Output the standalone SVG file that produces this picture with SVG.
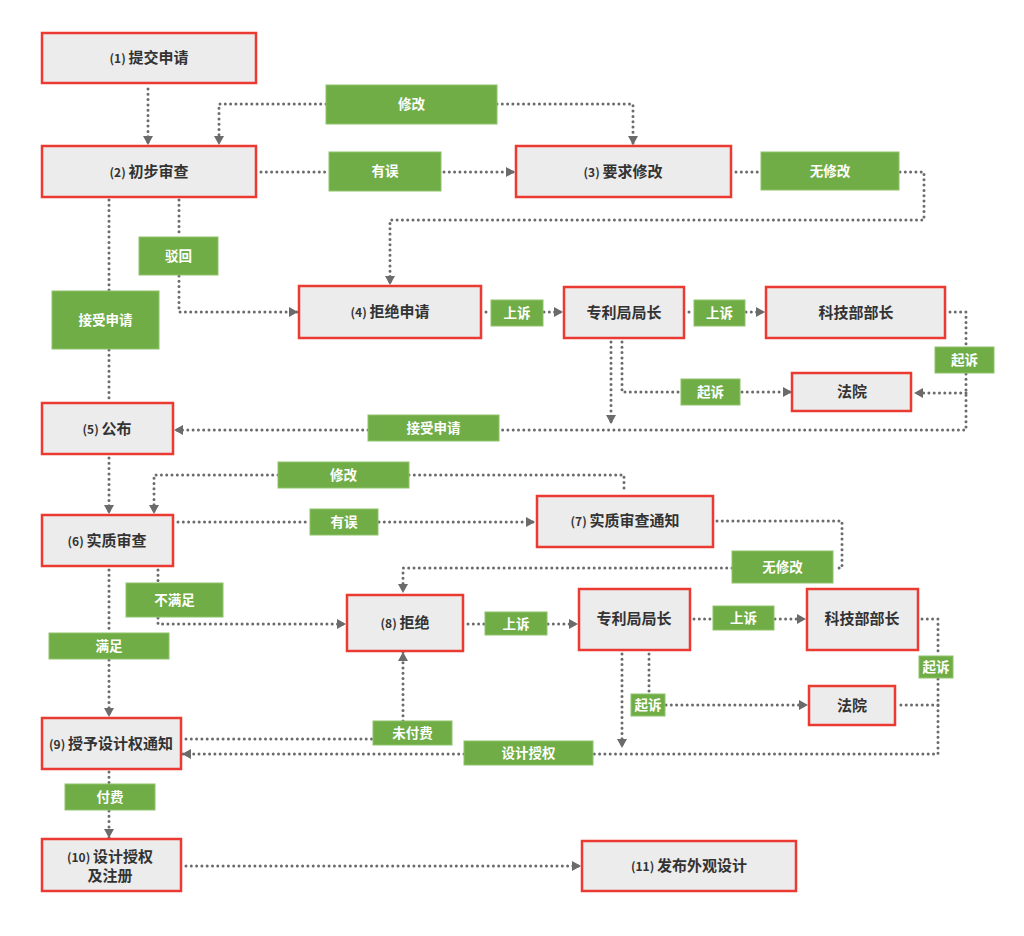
<svg xmlns="http://www.w3.org/2000/svg" width="1024" height="936" viewBox="0 0 1024 936">
<defs>
<style>
.node rect{fill:#ececec;stroke:#ea3a31;stroke-width:2.5}
.nt{font-family:"Noto Sans CJK SC","Noto Sans",sans-serif;font-size:15px;font-weight:bold;fill:#333;text-anchor:middle}
.num{font-size:12px;font-weight:bold}
.lbl rect{fill:#70ad47;stroke:#8fc36a;stroke-width:1}
.lt{font-family:"Noto Sans CJK SC","Noto Sans",sans-serif;font-size:13.5px;font-weight:bold;fill:#fff;text-anchor:middle}
.c path{fill:none;stroke:#6b6b6b;stroke-width:3;stroke-dasharray:0 5.3;stroke-linecap:round}
.c path.a{marker-end:url(#arr)}
</style>
<marker id="arr" markerUnits="userSpaceOnUse" markerWidth="10" markerHeight="10" refX="9" refY="5" orient="auto"><path d="M0,0 L9,5 L0,10 z" fill="#6b6b6b"/></marker>
</defs>
<rect width="1024" height="936" fill="#fff"/>
<g id="connectors" class="c">
<path class="a" d="M148,89 V145"/>
<path class="a" d="M326,104 H219 V145"/>
<path class="a" d="M497,104 H633 V145"/>
<path d="M261,172 H329"/>
<path class="a" d="M444,172 H515"/>
<path d="M736,172 H761"/>
<path class="a" d="M900,172 H924 V220 H390 V285"/>
<path d="M179,200 V237"/>
<path class="a" d="M179,276 V312 H298"/>
<path d="M109,200 V291"/>
<path d="M109,350 V402"/>
<path d="M486,312 H491"/>
<path class="a" d="M544,312 H563"/>
<path d="M689,312 H694"/>
<path class="a" d="M746,312 H765"/>
<path d="M950,312 H966 V347"/>
<path d="M966,374 V430 H500"/>
<path class="a" d="M966,393 H914"/>
<path class="a" d="M368,430 H174"/>
<path class="a" d="M611,342 V424"/>
<path d="M622,342 V392 H681"/>
<path class="a" d="M742,392 H792"/>
<path class="a" d="M109,458 V514"/>
<path class="a" d="M278,475 H154 V514"/>
<path d="M409,475 H624 V492"/>
<path d="M178,522 H310"/>
<path class="a" d="M379,522 H535"/>
<path d="M717,521 H842 V568 H834"/>
<path class="a" d="M732,568 H403 V593"/>
<path d="M158,570 V583"/>
<path class="a" d="M158,618 V624 H346"/>
<path d="M109,570 V633"/>
<path class="a" d="M109,660 V717"/>
<path d="M468,624 H485"/>
<path class="a" d="M548,624 H578"/>
<path d="M694,619 H713"/>
<path class="a" d="M775,619 H806"/>
<path d="M922,619 H938 V656"/>
<path d="M938,679 V754 H594"/>
<path d="M938,705 H899"/>
<path class="a" d="M464,754 H182"/>
<path class="a" d="M622,654 V748"/>
<path d="M649,654 V694"/>
<path class="a" d="M666,705 H808"/>
<path d="M186,739 H373"/>
<path class="a" d="M403,721 V652"/>
<path d="M109,772 V784"/>
<path class="a" d="M109,811 V838"/>
<path class="a" d="M186,866 H581"/>
</g>
<g id="n1" class="node"><rect x="42" y="33" width="214" height="50"/><text class="nt" x="149" y="63"><tspan class="num">(1) </tspan>提交申请</text></g>
<g id="n2" class="node"><rect x="42" y="146" width="214" height="51"/><text class="nt" x="149" y="177"><tspan class="num">(2) </tspan>初步审查</text></g>
<g id="n3" class="node"><rect x="516" y="146" width="215" height="51"/><text class="nt" x="623" y="177"><tspan class="num">(3) </tspan>要求修改</text></g>
<g id="n4" class="node"><rect x="299" y="286" width="182" height="52"/><text class="nt" x="390" y="317"><tspan class="num">(4) </tspan>拒绝申请</text></g>
<g id="n5" class="node"><rect x="564" y="287" width="120" height="51"/><text class="nt" x="624" y="318">专利局局长</text></g>
<g id="n6" class="node"><rect x="766" y="287" width="179" height="51"/><text class="nt" x="856" y="318">科技部部长</text></g>
<g id="n7" class="node"><rect x="792" y="373" width="119" height="38"/><text class="nt" x="852" y="397">法院</text></g>
<g id="n8" class="node"><rect x="42" y="403" width="131" height="51"/><text class="nt" x="107" y="434"><tspan class="num">(5) </tspan>公布</text></g>
<g id="n9" class="node"><rect x="42" y="515" width="131" height="51"/><text class="nt" x="107" y="546"><tspan class="num">(6) </tspan>实质审查</text></g>
<g id="n10" class="node"><rect x="537" y="496" width="176" height="51"/><text class="nt" x="625" y="526"><tspan class="num">(7) </tspan>实质审查通知</text></g>
<g id="n11" class="node"><rect x="347" y="595" width="116" height="56"/><text class="nt" x="405" y="628"><tspan class="num">(8) </tspan>拒绝</text></g>
<g id="n12" class="node"><rect x="579" y="589" width="111" height="61"/><text class="nt" x="634" y="624">专利局局长</text></g>
<g id="n13" class="node"><rect x="807" y="589" width="111" height="61"/><text class="nt" x="862" y="624">科技部部长</text></g>
<g id="n14" class="node"><rect x="809" y="686" width="86" height="39"/><text class="nt" x="852" y="711">法院</text></g>
<g id="n15" class="node"><rect x="42" y="718" width="139" height="51"/><text class="nt" x="111" y="749"><tspan class="num">(9) </tspan>授予设计权通知</text></g>
<g id="n16" class="node"><rect x="42" y="839" width="139" height="52"/><text class="nt" x="110" y="862"><tspan class="num">(10) </tspan>设计授权</text><text class="nt" x="110" y="881">及注册</text></g>
<g id="n17" class="node"><rect x="582" y="841" width="214" height="50"/><text class="nt" x="689" y="871"><tspan class="num">(11) </tspan>发布外观设计</text></g>
<g id="l1" class="lbl"><rect x="326" y="85" width="171" height="39"/><text class="lt" x="411.5" y="109">修改</text></g>
<g id="l2" class="lbl"><rect x="329" y="152" width="112" height="39"/><text class="lt" x="385" y="176">有误</text></g>
<g id="l3" class="lbl"><rect x="761" y="152" width="138" height="38"/><text class="lt" x="830" y="176">无修改</text></g>
<g id="l4" class="lbl"><rect x="139" y="237" width="79" height="38"/><text class="lt" x="178.5" y="261">驳回</text></g>
<g id="l5" class="lbl"><rect x="52" y="291" width="107" height="58"/><text class="lt" x="105.5" y="325">接受申请</text></g>
<g id="l6" class="lbl"><rect x="368" y="415" width="131" height="26"/><text class="lt" x="433.5" y="433">接受申请</text></g>
<g id="l7" class="lbl"><rect x="491" y="300" width="52" height="26"/><text class="lt" x="517" y="318">上诉</text></g>
<g id="l8" class="lbl"><rect x="694" y="300" width="51" height="26"/><text class="lt" x="719.5" y="318">上诉</text></g>
<g id="l9" class="lbl"><rect x="935" y="347" width="59" height="26"/><text class="lt" x="964.5" y="365">起诉</text></g>
<g id="l10" class="lbl"><rect x="681" y="379" width="59" height="26"/><text class="lt" x="710.5" y="397">起诉</text></g>
<g id="l11" class="lbl"><rect x="278" y="462" width="131" height="26"/><text class="lt" x="343.5" y="480">修改</text></g>
<g id="l12" class="lbl"><rect x="310" y="509" width="68" height="26"/><text class="lt" x="344" y="527">有误</text></g>
<g id="l13" class="lbl"><rect x="732" y="551" width="101" height="32"/><text class="lt" x="782.5" y="572">无修改</text></g>
<g id="l14" class="lbl"><rect x="126" y="583" width="97" height="34"/><text class="lt" x="174.5" y="605">不满足</text></g>
<g id="l15" class="lbl"><rect x="49" y="633" width="120" height="26"/><text class="lt" x="109" y="651">满足</text></g>
<g id="l16" class="lbl"><rect x="485" y="612" width="62" height="23"/><text class="lt" x="516" y="629">上诉</text></g>
<g id="l17" class="lbl"><rect x="713" y="606" width="61" height="24"/><text class="lt" x="743.5" y="623">上诉</text></g>
<g id="l18" class="lbl"><rect x="919" y="656" width="34" height="22"/><text class="lt" x="936" y="672">起诉</text></g>
<g id="l19" class="lbl"><rect x="631" y="694" width="34" height="22"/><text class="lt" x="648" y="710">起诉</text></g>
<g id="l20" class="lbl"><rect x="373" y="721" width="79" height="24"/><text class="lt" x="412.5" y="738">未付费</text></g>
<g id="l21" class="lbl"><rect x="464" y="741" width="129" height="24"/><text class="lt" x="528.5" y="758">设计授权</text></g>
<g id="l22" class="lbl"><rect x="65" y="784" width="90" height="26"/><text class="lt" x="110" y="802">付费</text></g>
</svg>
